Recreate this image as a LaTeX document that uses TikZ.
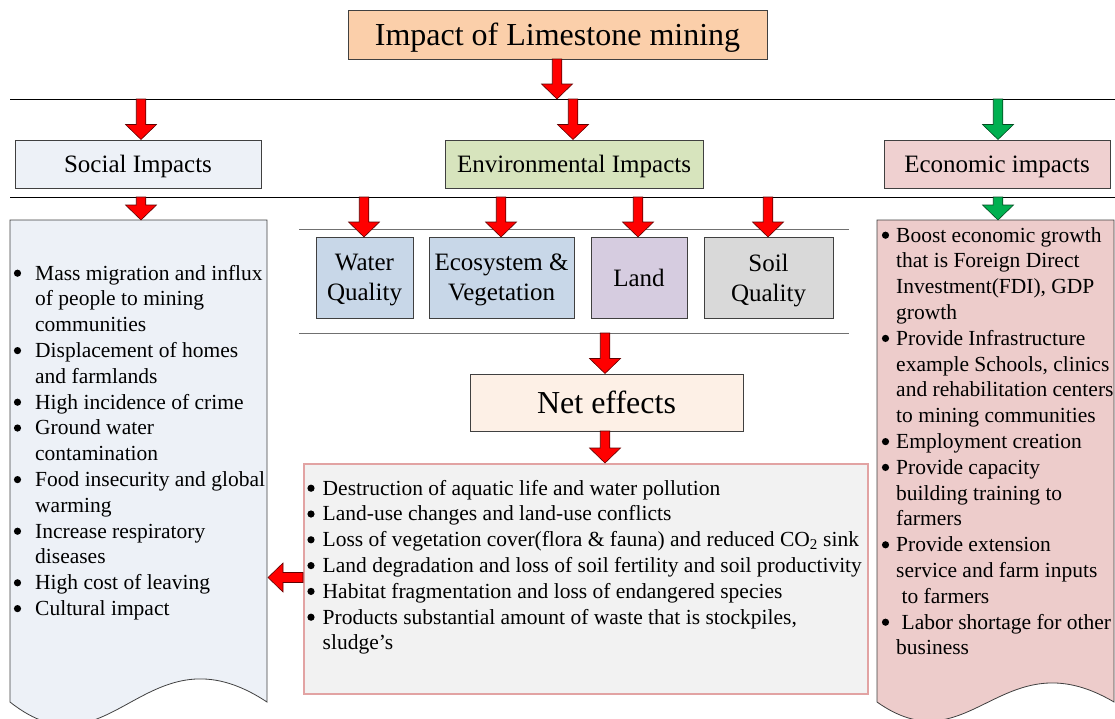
\documentclass[tikz,border=0pt]{standalone}
\usepackage{fontspec}
\setmainfont{Liberation Serif}
\usepackage{array}
\definecolor{boxline}{HTML}{404040}
\definecolor{peach}{HTML}{FBCFAA}
\definecolor{socfill}{HTML}{EDF1F7}
\definecolor{envfill}{HTML}{D7E4BD}
\definecolor{ecofill}{HTML}{EFD0D0}
\definecolor{econdoc}{HTML}{EDCCCB}
\definecolor{waterfill}{HTML}{C8D7E8}
\definecolor{landfill}{HTML}{D6CCE0}
\definecolor{soilfill}{HTML}{D9D9D9}
\definecolor{netfill}{HTML}{FDF0E6}
\definecolor{listfill}{HTML}{F2F2F2}
\definecolor{listline}{HTML}{E2A3A3}
\definecolor{arrred}{HTML}{FF0000}
\definecolor{arrredline}{HTML}{600000}
\definecolor{arrgreen}{HTML}{00B050}
\definecolor{arrgreenline}{HTML}{004D20}
\definecolor{thinline}{HTML}{707070}
\newcommand\myBody{\fontsize{21.5}{25.8}\selectfont}
\newcommand\myLab{\fontsize{25}{30}\selectfont}
\newcommand\myBig{\fontsize{32}{38}\selectfont}
% block arrow pointing down: x, y top, y tip, fill, outline
\newcommand\blkdown[5]{\filldraw[fill=#4,draw=#5,line width=0.6pt,line join=miter]
  (#1-4.75,#2) -- (#1+4.75,#2) -- (#1+4.75,#3-15) -- (#1+15.5,#3-15) -- (#1,#3)
  -- (#1-15.5,#3-15) -- (#1-4.75,#3-15) -- cycle;}
\begin{document}
\begin{tikzpicture}[x=1pt,y=-1pt,
  box/.style={draw=boxline,line width=0.8pt,inner sep=0pt,align=center,font=\myLab,text depth=0pt},
  hrule/.style={line width=0.8pt,draw=black},
  grule/.style={line width=0.8pt,draw=thinline},
  doc/.style={draw=boxline,line width=0.8pt},
  bulletdot/.style={fill=black},
  listtext/.style={anchor=base west,inner sep=0pt,font=\myBody}]
\useasboundingbox (0,0) rectangle (1115,718);

% separator lines
\coordinate (l1a) at (10,99);   \coordinate (l1b) at (1115,99);
\coordinate (l2a) at (10,197);  \coordinate (l2b) at (1115,197);
\coordinate (l3a) at (299,229); \coordinate (l3b) at (849,229);
\coordinate (l4a) at (299,333); \coordinate (l4b) at (849,333);
\draw[hrule] (l1a) -- (l1b);
\draw[hrule] (l2a) -- (l2b);
\draw[grule] (l3a) -- (l3b);
\draw[grule] (l4a) -- (l4b);

% document shapes
\path[doc,fill=socfill] (10,220) -- (267,220) -- (267,702)
  .. controls (146,622) and (111,782) .. (10,702) -- cycle;
\path[doc,fill=econdoc] (877,220) -- (1114,220) -- (1114,702)
  .. controls (1002,636) and (970,768) .. (877,702) -- cycle;

% boxes
\node[box,fill=peach,minimum width=419pt,minimum height=49pt,font=\myBig] (top) at (557.5,34.5) {Impact of Limestone mining};
\node[box,fill=socfill,minimum width=246pt,minimum height=48pt] (social) at (138,164) {Social Impacts};
\node[box,fill=envfill,minimum width=258pt,minimum height=48pt] (env) at (574,164) {Environmental Impacts};
\node[box,fill=ecofill,minimum width=226pt,minimum height=48pt] (econ) at (997,164) {Economic impacts};
\node[box,fill=waterfill,minimum width=97pt,minimum height=81pt] (water) at (364.5,277.5) {Water\\Quality};
\node[box,fill=waterfill,minimum width=145pt,minimum height=81pt] (eco) at (501.5,277.5) {Ecosystem \&\\Vegetation};
\node[box,fill=landfill,minimum width=96pt,minimum height=81pt,text depth=] (land) at (639,277.5) {Land};
\node[box,fill=soilfill,minimum width=129pt,minimum height=81pt] (soil) at (768.5,277.5) {Soil\\Quality};
\node[box,fill=netfill,minimum width=273pt,minimum height=57pt,font=\myBig] (net) at (606.5,402.5) {Net effects};
\node[draw=listline,line width=2pt,fill=listfill,minimum width=564pt,minimum height=230pt,inner sep=0pt] (netlist) at (586,579) {};

% arrows
\blkdown{557}{59}{99}{arrred}{arrredline}
\blkdown{141}{99}{139.5}{arrred}{arrredline}
\blkdown{573}{99}{139.5}{arrred}{arrredline}
\blkdown{998}{99}{139.5}{arrgreen}{arrgreenline}
\blkdown{141}{197}{220}{arrred}{arrredline}
\blkdown{998}{197}{220}{arrgreen}{arrgreenline}
\blkdown{364}{197}{237}{arrred}{arrredline}
\blkdown{501}{197}{237}{arrred}{arrredline}
\blkdown{638}{197}{237}{arrred}{arrredline}
\blkdown{768}{197}{237}{arrred}{arrredline}
\blkdown{605}{333}{373.5}{arrred}{arrredline}
\blkdown{605}{431}{463}{arrred}{arrredline}
\filldraw[fill=arrred,draw=arrredline,line width=0.6pt,line join=miter]
  (netlist.west |- 0,572.5) -- (283,572.5) -- (283,563) -- (268,577.5)
  -- (283,592) -- (283,582.5) -- (netlist.west |- 0,582.5) -- cycle;

% list texts
\node[listtext] (soctext) at (13,280) {\begin{tabular}[t]{@{}p{22pt}@{}l@{}}
 & Mass migration and influx\\
 & of people to mining\\
 & communities\\
 & Displacement of homes\\
 & and farmlands\\
 & High incidence of crime\\
 & Ground water\\
 & contamination\\
 & Food insecurity and global\\
 & warming\\
 & Increase respiratory\\
 & diseases\\
 & High cost of leaving\\
 & Cultural impact
\end{tabular}};

\node[listtext] (ecotext) at (882,242) {\begin{tabular}[t]{@{}p{14pt}@{}l@{}}
 & Boost economic growth\\
 & that is Foreign Direct\\
 & Investment(FDI), GDP\\
 & growth\\
 & Provide Infrastructure\\
 & example Schools, clinics\\
 & and rehabilitation centers\\
 & to mining communities\\
 & Employment creation\\
 & Provide capacity\\
 & building training to\\
 & farmers\\
 & Provide extension\\
 & service and farm inputs\\
 & \hspace{5.4pt}to farmers\\
 & \hspace{5.4pt}Labor shortage for other\\
 & business
\end{tabular}};

\node[listtext] (nettext) at (307,495) {\begin{tabular}[t]{@{}p{15.5pt}@{}l@{}}
 & Destruction of aquatic life and water pollution\\
 & Land-use changes and land-use conflicts\\
 & Loss of vegetation cover(flora \& fauna) and reduced CO\textsubscript{2} sink\\
 & Land degradation and loss of soil fertility and soil productivity\\
 & Habitat fragmentation and loss of endangered species\\
 & Products substantial amount of waste that is stockpiles,\\
 & sludge’s
\end{tabular}};

% bullets
\foreach \r in {0,3,5,6,8,10,12,13}
  \fill[bulletdot] (17.5,{280+25.8*\r-6.8}) circle (3.6);
\foreach \r in {0,4,8,9,12,15}
  \fill[bulletdot] (885.5,{242+25.8*\r-6.8}) circle (3.6);
\foreach \r in {0,1,2,3,4,5}
  \fill[bulletdot] (311,{495+25.8*\r-6.8}) circle (3.6);
\end{tikzpicture}
\end{document}
